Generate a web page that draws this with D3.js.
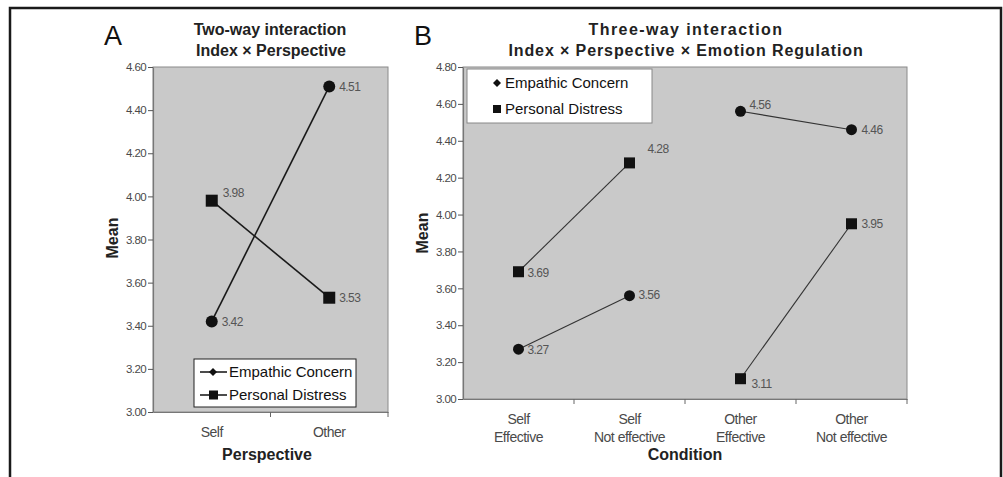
<!DOCTYPE html>
<html><head><meta charset="utf-8">
<script src="https://cdn.jsdelivr.net/npm/d3@7"></script>
<style>
body{margin:0;background:#fff;}
svg text{font-family:"Liberation Sans",Arial,sans-serif;}
</style></head>
<body>
<svg id="chart" width="1003" height="477"></svg>
<script>
// ---- Data ----
const perspectives = ["Self", "Other"];
const twoWayEC = [3.42, 4.51];
const twoWayPD = [3.98, 3.53];
const yTicksA = [3.00, 3.20, 3.40, 3.60, 3.80, 4.00, 4.20, 4.40, 4.60];

const conditions = [["Self","Effective"],["Self","Not effective"],["Other","Effective"],["Other","Not effective"]];
const threeWayEC = [3.27, 3.56, 4.56, 4.46];
const threeWayPD = [3.69, 4.28, 3.11, 3.95];
const yTicksB = [3.00, 3.20, 3.40, 3.60, 3.80, 4.00, 4.20, 4.40, 4.60, 4.80];
const seriesNames = ["Empathic Concern", "Personal Distress"];

const svg = d3.select("#chart");
// frame
svg.append("path").attr("d","M10,477 L10,8 L1001,8 L1001,477").attr("fill","none").attr("stroke","#1a1a1a").attr("stroke-width",2.5);

const plotBg = "#c9c9c9";
const tickColor = "#4a4a4a";

function drawMarker(g, type, x, y, size) {
  if (type === "circle") {
    g.append("circle").attr("cx",x).attr("cy",y).attr("r",size/2).attr("fill","#111");
  } else {
    g.append("rect").attr("x",x-size/2).attr("y",y-size/2).attr("width",size).attr("height",size).attr("fill","#111");
  }
}

function yAxis(g, y, ticks, x0) {
  const ax = d3.axisLeft(y).tickValues(ticks).tickFormat(d3.format(".2f")).tickSize(5).tickSizeOuter(0);
  const a = g.append("g").attr("transform",`translate(${x0},0)`).call(ax);
  a.select(".domain").attr("stroke","#777").attr("stroke-width",1.2);
  a.selectAll(".tick line").attr("stroke","#555");
  a.selectAll(".tick text").attr("fill",tickColor).attr("font-size",11.5).attr("letter-spacing","-0.6px").attr("x",-7);
}

// ================= Panel A =================
{
  const L=153, R=388, T=67, B=412;
  const g = svg.append("g");
  const x = d3.scaleBand().domain(perspectives).range([L,R]);
  const y = d3.scaleLinear().domain([3.0,4.6]).range([B,T]);
  g.append("rect").attr("x",L).attr("y",T).attr("width",R-L).attr("height",B-T).attr("fill",plotBg).attr("stroke","#8a8a8a").attr("stroke-width",1);
  yAxis(g, y, yTicksA, L);
  const xa = g.append("g").attr("transform",`translate(0,${B})`).call(d3.axisBottom(x).tickSize(0).tickSizeOuter(0).tickFormat(()=>""));
  xa.select(".domain").attr("stroke","#777").attr("stroke-width",1.2);
  const cx = d => x(d)+x.bandwidth()/2;
  perspectives.forEach(p=>{
    g.append("text").attr("x",cx(p)).attr("y",437).attr("text-anchor","middle").attr("font-size",14).attr("fill",tickColor).attr("letter-spacing","-0.5px").text(p);
  });
  g.append("line").attr("x1",x("Other")).attr("x2",x("Other")).attr("y1",B).attr("y2",B+5).attr("stroke","#666");
  g.append("line").attr("x1",R).attr("x2",R).attr("y1",B).attr("y2",B+5).attr("stroke","#666");
  const line = d3.line().x((v,i)=>cx(perspectives[i])).y(v=>y(v));
  g.append("path").attr("d",line(twoWayEC)).attr("fill","none").attr("stroke","#1a1a1a").attr("stroke-width",1.6);
  g.append("path").attr("d",line(twoWayPD)).attr("fill","none").attr("stroke","#1a1a1a").attr("stroke-width",1.6);
  twoWayEC.forEach((v,i)=>drawMarker(g,"circle",cx(perspectives[i]),y(v),12));
  twoWayPD.forEach((v,i)=>drawMarker(g,"square",cx(perspectives[i]),y(v),12));
  const lab = (px,py,t)=>g.append("text").attr("x",px).attr("y",py).attr("dy","0.35em").attr("font-size",12).attr("fill","#555").attr("letter-spacing","-0.6px").text(t);
  lab(cx("Other")+10, y(twoWayEC[1]), twoWayEC[1].toFixed(2));
  lab(cx("Self")+10, y(twoWayEC[0]), twoWayEC[0].toFixed(2));
  lab(cx("Self")+11, y(twoWayPD[0])-8, twoWayPD[0].toFixed(2));
  lab(cx("Other")+10, y(twoWayPD[1]), twoWayPD[1].toFixed(2));
  // legend
  const lg = g.append("g");
  lg.append("rect").attr("x",194).attr("y",359).attr("width",162).attr("height",48).attr("fill","#fff").attr("stroke","#222").attr("stroke-width",1);
  seriesNames.forEach((s,i)=>{
    const ly = 372 + i*23;
    lg.append("line").attr("x1",200).attr("x2",227).attr("y1",ly).attr("y2",ly).attr("stroke","#111").attr("stroke-width",1.5);
    if(i===0) lg.append("path").attr("d",`M213,${ly-4} L217,${ly} L213,${ly+4} L209,${ly} Z`).attr("fill","#111");
    else lg.append("rect").attr("x",209).attr("y",ly-4.5).attr("width",9).attr("height",9).attr("fill","#111");
    lg.append("text").attr("x",229).attr("y",ly).attr("dy","0.36em").attr("font-size",15).attr("fill","#111").text(s);
  });
  // titles
  g.append("text").attr("x",104).attr("y",45).attr("font-size",27).attr("fill","#111").text("A");
  g.append("text").attr("x",270).attr("y",35).attr("text-anchor","middle").attr("font-size",16).attr("font-weight","bold").attr("fill","#222").text("Two-way interaction");
  g.append("text").attr("x",271).attr("y",56).attr("text-anchor","middle").attr("font-size",16).attr("font-weight","bold").attr("fill","#222").text("Index × Perspective");
  g.append("text").attr("transform","translate(118,238) rotate(-90)").attr("text-anchor","middle").attr("font-size",16).attr("font-weight","bold").attr("fill","#222").text("Mean");
  g.append("text").attr("x",267).attr("y",460).attr("text-anchor","middle").attr("font-size",16).attr("font-weight","bold").attr("fill","#222").text("Perspective");
}

// ================= Panel B =================
{
  const L=463, R=907, T=67, B=399;
  const g = svg.append("g");
  const keys = conditions.map(c=>c.join(" "));
  const x = d3.scaleBand().domain(keys).range([L,R]);
  const y = d3.scaleLinear().domain([3.0,4.8]).range([B,T]);
  g.append("rect").attr("x",L).attr("y",T).attr("width",R-L).attr("height",B-T).attr("fill",plotBg).attr("stroke","#8a8a8a").attr("stroke-width",1);
  yAxis(g, y, yTicksB, L);
  const xa = g.append("g").attr("transform",`translate(0,${B})`).call(d3.axisBottom(x).tickSize(0).tickSizeOuter(0).tickFormat(()=>""));
  xa.select(".domain").attr("stroke","#777").attr("stroke-width",1.2);
  keys.forEach((k,i)=>{ if(i>0) g.append("line").attr("x1",x(k)).attr("x2",x(k)).attr("y1",B).attr("y2",B+5).attr("stroke","#666");});
  g.append("line").attr("x1",R).attr("x2",R).attr("y1",B).attr("y2",B+5).attr("stroke","#666");
  const cx = i => x(keys[i])+x.bandwidth()/2;
  conditions.forEach((c,i)=>{
    const t = g.append("text").attr("x",cx(i)).attr("y",424).attr("text-anchor","middle").attr("font-size",14).attr("fill",tickColor).attr("letter-spacing","-0.5px");
    t.append("tspan").attr("x",cx(i)).text(c[0]);
    t.append("tspan").attr("x",cx(i)).attr("dy",18).text(c[1]);
  });
  const line = d3.line().x(d=>cx(d[0])).y(d=>y(d[1]));
  [[0,1],[2,3]].forEach(pair=>{
    g.append("path").attr("d",line(pair.map(i=>[i,threeWayEC[i]]))).attr("fill","none").attr("stroke","#333").attr("stroke-width",1.1);
    g.append("path").attr("d",line(pair.map(i=>[i,threeWayPD[i]]))).attr("fill","none").attr("stroke","#333").attr("stroke-width",1.1);
  });
  threeWayEC.forEach((v,i)=>drawMarker(g,"circle",cx(i),y(v),11));
  threeWayPD.forEach((v,i)=>drawMarker(g,"square",cx(i),y(v),11));
  const lab = (px,py,t)=>g.append("text").attr("x",px).attr("y",py).attr("dy","0.35em").attr("font-size",12).attr("fill","#555").attr("letter-spacing","-0.6px").text(t);
  const offsPD = [[9,1],[18,-14],[11,5],[10,0]];
  const offsEC = [[9,1],[9,-1],[9,-6],[10,0]];
  threeWayEC.forEach((v,i)=>lab(cx(i)+offsEC[i][0], y(v)+offsEC[i][1], v.toFixed(2)));
  threeWayPD.forEach((v,i)=>lab(cx(i)+offsPD[i][0], y(v)+offsPD[i][1], v.toFixed(2)));
  // legend
  const lg = g.append("g");
  lg.append("rect").attr("x",467).attr("y",69).attr("width",185).attr("height",54).attr("fill","#fff").attr("stroke","#888").attr("stroke-width",1);
  seriesNames.forEach((s,i)=>{
    const ly = 83 + i*26;
    if(i===0) lg.append("path").attr("d",`M497,${ly-4} L501,${ly} L497,${ly+4} L493,${ly} Z`).attr("fill","#111");
    else lg.append("rect").attr("x",493).attr("y",ly-4).attr("width",8).attr("height",8).attr("fill","#111");
    lg.append("text").attr("x",505).attr("y",ly).attr("dy","0.36em").attr("font-size",15).attr("fill","#111").text(s);
  });
  g.append("text").attr("x",685).attr("y",45).attr("font-size",27).attr("fill","#111").attr("x",414).text("B");
  g.append("text").attr("x",686).attr("y",35).attr("text-anchor","middle").attr("font-size",16).attr("font-weight","bold").attr("letter-spacing","1.4px").attr("fill","#222").text("Three-way interaction");
  g.append("text").attr("x",686).attr("y",56).attr("text-anchor","middle").attr("font-size",16).attr("font-weight","bold").attr("letter-spacing","0.9px").attr("fill","#222").text("Index × Perspective × Emotion Regulation");
  g.append("text").attr("transform","translate(428,233) rotate(-90)").attr("text-anchor","middle").attr("font-size",16).attr("font-weight","bold").attr("fill","#222").text("Mean");
  g.append("text").attr("x",685).attr("y",460).attr("text-anchor","middle").attr("font-size",16).attr("font-weight","bold").attr("fill","#222").text("Condition");
}
</script>
</body></html>
